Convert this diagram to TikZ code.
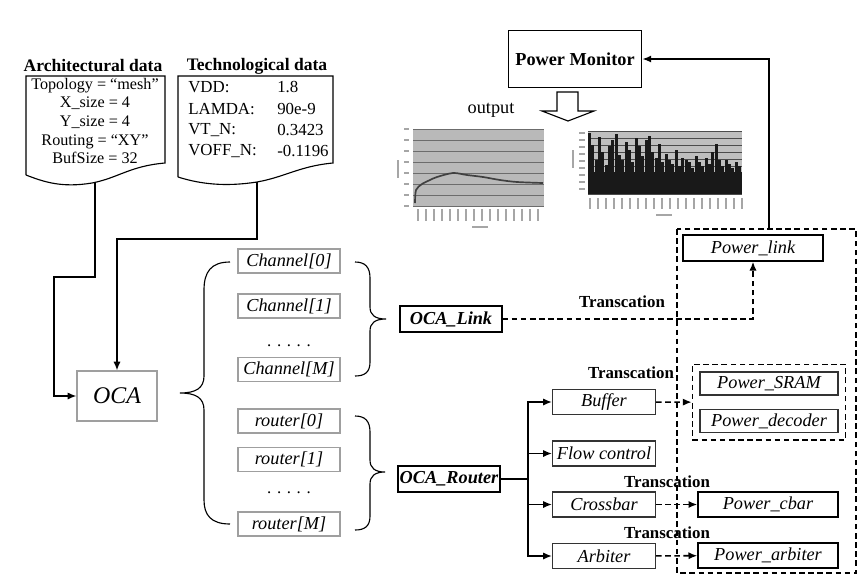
\documentclass[tikz,border=0pt]{standalone}
\usepackage{fontspec}
\setmainfont{Liberation Serif}
\usetikzlibrary{positioning,fit,arrows.meta}

\begin{document}
\begin{tikzpicture}[x=0.25mm, y=-0.25mm, node distance=11.25mm,
		every node/.style={font=\fontsize{12}{13.2}\selectfont},
		box/.style={draw=gray!75, thick, minimum width=25.5mm, minimum height=6mm, inner sep=0pt, font=\itshape\fontsize{13}{15}\selectfont},
		sub/.style={draw=black!80, thick, minimum width=25.75mm, minimum height=6.25mm, inner sep=0pt, font=\itshape\fontsize{13}{15}\selectfont},
		pwr/.style={draw, line width=1pt, minimum width=35mm, minimum height=6.25mm, inner sep=0pt, font=\itshape\fontsize{13}{15}\selectfont},
		oca/.style={draw, thick, minimum width=25.5mm, minimum height=6.5mm, inner sep=0pt, font=\bfseries\itshape\fontsize{13}{15}\selectfont},
		title/.style={inner sep=0pt, font=\bfseries\fontsize{12.5}{14}\selectfont},
		trans/.style={font=\bfseries\fontsize{12}{14}\selectfont},
		arr/.style={line width=1.1pt, -{Latex[length=2.2mm, width=1.8mm]}},
		darr/.style={arr, dash pattern=on 4pt off 2.5pt}]

	\useasboundingbox (0,0) rectangle (858,579);

			\node[title] (1) at (93,66) {Architectural data};
			\node[title] (2) at (257,66) {Technological data};
			\node[align=center, inner sep=0pt, font=\fontsize{11.5}{13.2}\selectfont] (3) at (95,121) {Topology = ``mesh''\\X\_size = 4\\Y\_size = 4\\Routing = ``XY''\\BufSize = 32};
			\foreach \k/\v [count=\i] in {VDD:/1.8, LAMDA:/90e-9, VT\_N:/0.3423, VOFF\_N:/-0.1196} {
				\node[anchor=west, inner sep=0pt] (k\i) at (188, {66+21.3*\i}) {\k};
				\node[anchor=west, inner sep=0pt] (v\i) at (277, {66+21.3*\i}) {\v};
			}
			\draw[thick] (26,175) -- (26,76) -- (165,76) -- (165,163) .. controls (130,166) and (118,178) .. (92,183) .. controls (62,188) and (44,182) .. (26,175);
			\draw[thick] (178,177) -- (178,76) -- (333,76) -- (333,163) .. controls (300,166) and (285,177) .. (257,182) .. controls (225,187) and (200,184) .. (178,177);
			\coordinate (4) at (95,183);
			\coordinate (5) at (257,182);

			\node[box, minimum width=20mm, minimum height=12.5mm, font=\itshape\fontsize{17}{19}\selectfont] (7) at (117,396) {OCA};

			\node[box] (8) at (289,261) {Channel[0]};
			\node[box] (9)[below of = 8] {Channel[1]};
			\node (10)[below of = 9, yshift=1.25mm] {. . . . .};
			\node[box] (11)[below of = 9, yshift=-4.6mm] {Channel[M]};
			\node[box] (12) at (289,421) {router[0]};
			\node[box] (13)[below of = 12, yshift=1.625mm] {router[1]};
			\node (14)[below of = 13, yshift=2.875mm] {. . . . .};
			\node[box] (15)[below of = 13, yshift=-4.875mm] {router[M]};

			\draw[thick] (230,262) .. controls (211,262) and (204,272) .. (204,290) -- (204,376) .. controls (204,388) and (196,393) .. (180,393) .. controls (196,393) and (204,398) .. (204,410) -- (204,500) .. controls (204,515) and (211,524) .. (230,524);
			\draw[thick] (355,262) .. controls (365,262) and (370,267) .. (370,278) -- (370,307) .. controls (370,315) and (375,319) .. (386,319) .. controls (375,319) and (370,323) .. (370,331) -- (370,362) .. controls (370,372) and (365,376) .. (355,376);
			\draw[thick] (355,416) .. controls (365,416) and (370,421) .. (370,432) -- (370,460) .. controls (370,468) and (375,472) .. (385,472) .. controls (375,472) and (370,476) .. (370,484) -- (370,516) .. controls (370,526) and (365,530) .. (355,530);

			\node[oca] (16) at (451,319) {OCA\_Link};
			\node[oca] (17) at (449,479) {OCA\_Router};

			\node[sub] (18) at (604,402) {Buffer};
			\node[sub] (19) at (604,453.5) {Flow control};
			\node[sub] (20) at (604,504.5) {Crossbar};
			\node[sub] (21) at (604,556) {Arbiter};

			\node[pwr, minimum height=6.5mm] (22) at (753,248) {Power\_link};
			\node[box, draw=black!80, minimum width=34.5mm, minimum height=5.75mm] (23) at (769,383.5) {Power\_SRAM};
			\node[box, draw=black!80, minimum width=34.5mm, minimum height=5.75mm] (24) at (769,421) {Power\_decoder};
			\node[pwr] (25) at (768,504.5) {Power\_cbar};
			\node[pwr] (26) at (768,555.5) {Power\_arbiter};
			\node[draw, line width=1.1pt, dash pattern=on 4pt off 2.5pt, fit=(23)(24), inner sep=1.75mm] (28) {};

			\node[draw, line width=1.3pt, minimum width=33.25mm, minimum height=14.25mm, font=\bfseries\fontsize{13}{15}\selectfont] (27) at (575,59) {Power Monitor};
			\draw[thick, fill=white] (557,92) -- (578,92) -- (578,111) -- (594,111) -- (568,121) -- (542,111) -- (557,111) -- cycle;
			\node[font=\fontsize{13}{15}\selectfont] (29) at (491,110) {output};

			\fill[gray!55] (413,129) rectangle (544,206);
			\foreach \y in {129,140,...,206}
				\draw[gray!85!black, line width=0.5pt] (413,\y) -- (544,\y);
			\draw[black!75, line width=1.2pt] plot[smooth] coordinates {(415,203) (416,190) (422,184) (430,180) (437,177) (453,173) (467,175) (483,177) (500,180) (517,182) (543,183)};
			\foreach \x in {418,426,...,543}
				\draw[gray!70, line width=1.3pt] (\x,209) -- (\x,221);
			\foreach \y in {129,140,...,206}
				\draw[gray!70, line width=1pt] (404,\y) -- (409,\y);
			\draw[gray!70, line width=1.2pt] (398,160) -- (398,178);
			\draw[gray!70, line width=1.2pt] (472,227) -- (488,227);

			\fill[gray!50] (588,131) rectangle (742,194);
			\foreach \y in {131,138,...,194}
				\draw[black!70, line width=0.6pt] (588,\y) -- (742,\y);
			\fill[black!90] (588,172) rectangle (742,194);
			\foreach \h [count=\i] in {133,145,160,137,152,165,146,140,134,155,160,142,150,162,138,146,156,140,136,152,158,144,162,154,160,164,150,166,158,160,162,168,156,162,166,158,164,152,144,160,166,160,164,168,162,166}
				\fill[black!90] ({588+3.33*(\i-1)},\h) rectangle ++(3,{194-\h});
			\foreach \x in {590,598,...,742}
				\draw[gray!70, line width=1.3pt] (\x,198) -- (\x,209);
			\foreach \y in {133,140,...,194}
				\draw[gray!70, line width=1pt] (579,\y) -- (585,\y);
			\draw[gray!70, line width=1.2pt] (573,150) -- (573,168);
			\draw[gray!70, line width=1.2pt] (656,215) -- (672,215);

			\draw[line width=1.1pt, dash pattern=on 4pt off 2.5pt] (677,229) rectangle (856,573);
			\coordinate (6) at (769,229);

			\draw[arr] (4) |- (54,277) |- (7);
			\draw[arr] (5) |- (117,239) -- (7);
			\draw[arr] (6) |- (27);
			\draw[darr] (16) -| (22);
			\draw[line width=1.1pt] (17) -- (528,479);
			\foreach \n in {18,19,20,21}
				\draw[arr] (528,479) |- (\n);
			\draw[darr] (18) -- (28);
			\draw[darr] (20) -- (25);
			\draw[darr] (21) -- (26);

			\node[trans] (30) at (622,302) {Transcation};
			\node[trans] (31) at (631,373) {Transcation};
			\node[trans] (32) at (667,482) {Transcation};
			\node[trans] (33) at (667,533) {Transcation};
		\end{tikzpicture}
\end{document}
